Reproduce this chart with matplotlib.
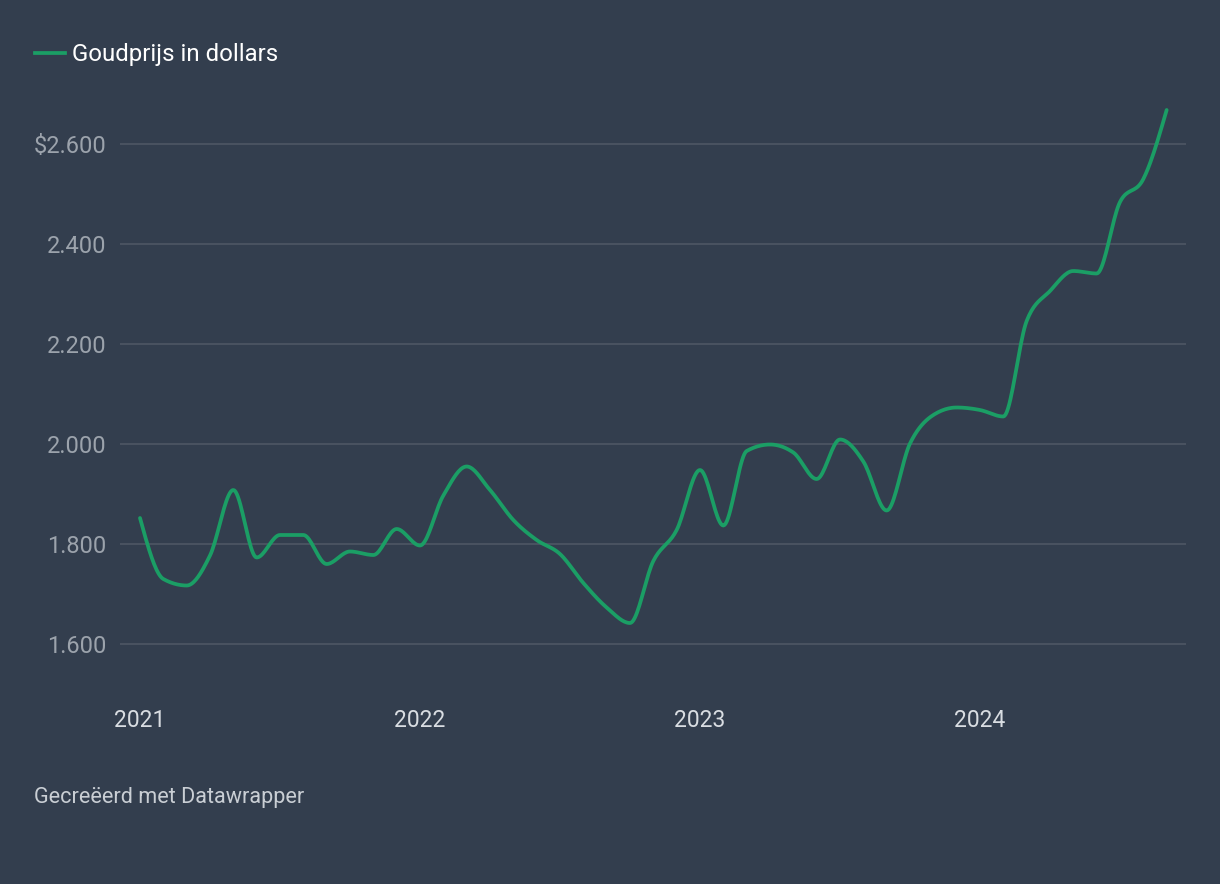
import numpy as np
import matplotlib
matplotlib.use("Agg")
import matplotlib.pyplot as plt

# monthly gold price, Jan 2021 .. Sep 2024
months = np.arange(45)
prices = [1852, 1730, 1717, 1777, 1908, 1773, 1818, 1818, 1760, 1785, 1778, 1830,
          1797, 1897, 1955, 1908, 1848, 1808, 1780, 1722, 1673, 1642, 1766, 1828,
          1948, 1837, 1986, 1999, 1983, 1930, 2009, 1965, 1867, 2001, 2058, 2073,
          2068, 2055, 2246, 2306, 2346, 2341, 2484, 2530, 2668]
year_ticks = [0, 12, 24, 36]
year_labels = ["2021", "2022", "2023", "2024"]
y_ticks = [1600, 1800, 2000, 2200, 2400, 2600]
y_labels = ["1.600", "1.800", "2.000", "2.200", "2.400", "$2.600"]

BG = "#333e4e"
GREEN = "#1b9e65"
W, H = 1220, 884


def monotone_curve(x, y, n=20):
    # monotone cubic hermite (like d3 curveMonotoneX), only used for drawing
    x = np.asarray(x, float)
    y = np.asarray(y, float)
    h = np.diff(x)
    s = np.diff(y) / h
    m = np.zeros_like(y)
    for i in range(1, len(y) - 1):
        if s[i - 1] * s[i] <= 0:
            m[i] = 0
        else:
            p = (s[i - 1] * h[i] + s[i] * h[i - 1]) / (h[i - 1] + h[i])
            m[i] = (np.sign(s[i - 1]) + np.sign(s[i])) * min(abs(s[i - 1]), abs(s[i]), 0.5 * abs(p))
    m[0] = (3 * s[0] - m[1]) / 2
    m[-1] = (3 * s[-1] - m[-2]) / 2
    xs, ys = [], []
    for i in range(len(x) - 1):
        t = np.linspace(0, 1, n, endpoint=False)
        h00 = 2 * t**3 - 3 * t**2 + 1
        h10 = t**3 - 2 * t**2 + t
        h01 = -2 * t**3 + 3 * t**2
        h11 = t**3 - t**2
        xs.append(x[i] + t * h[i])
        ys.append(h00 * y[i] + h10 * h[i] * m[i] + h01 * y[i + 1] + h11 * h[i] * m[i + 1])
    xs.append([x[-1]])
    ys.append([y[-1]])
    return np.concatenate(xs), np.concatenate(ys)


plt.rcParams['font.family'] = ['Roboto', 'DejaVu Sans']

fig = plt.figure(figsize=(W / 100, H / 100), dpi=100, facecolor=BG)
# axes in pixel coords: left 120, right 1186, top 100, bottom 690
ax = fig.add_axes([120 / W, 1 - 690 / H, (1186 - 120) / W, (690 - 100) / H])
ax.set_facecolor(BG)

px_per_month = 280 / 12
ax.set_xlim(-20 / px_per_month, (1186 - 140) / px_per_month)
ax.set_ylim(1600 - (690 - 644) * 2, 1600 + (644 - 100) * 2)

for v in y_ticks:
    ax.axhline(v, color="#4c5563", lw=1.3, zorder=1)

cx, cy = monotone_curve(months, prices)
ax.plot(cx, cy, color=GREEN, lw=2.7, solid_capstyle="round", zorder=3)

ax.set_yticks(y_ticks)
ax.set_yticklabels(y_labels)
ax.set_xticks(year_ticks)
ax.set_xticklabels(year_labels)
ax.tick_params(axis="y", length=0, pad=9.5, labelsize=17, labelcolor="#9ca3ac")
ax.tick_params(axis="x", length=0, pad=13.5, labelsize=16.5, labelcolor="#d9dde2")
for sp in ax.spines.values():
    sp.set_visible(False)

# legend
fig.add_artist(plt.Line2D([35 / W, 65 / W], [1 - 53 / H, 1 - 53 / H], color=GREEN, lw=2.7))
fig.text(72 / W, 1 - 54 / H, "Goudprijs in dollars", color="white", fontsize=17.3, va="center", ha="left")

# footer
fig.text(34 / W, 1 - 798 / H, "Gecreëerd met Datawrapper", color="#c9ced4", fontsize=15.6, va="center", ha="left")

fig.savefig("out.png", dpi=100, facecolor=BG)
